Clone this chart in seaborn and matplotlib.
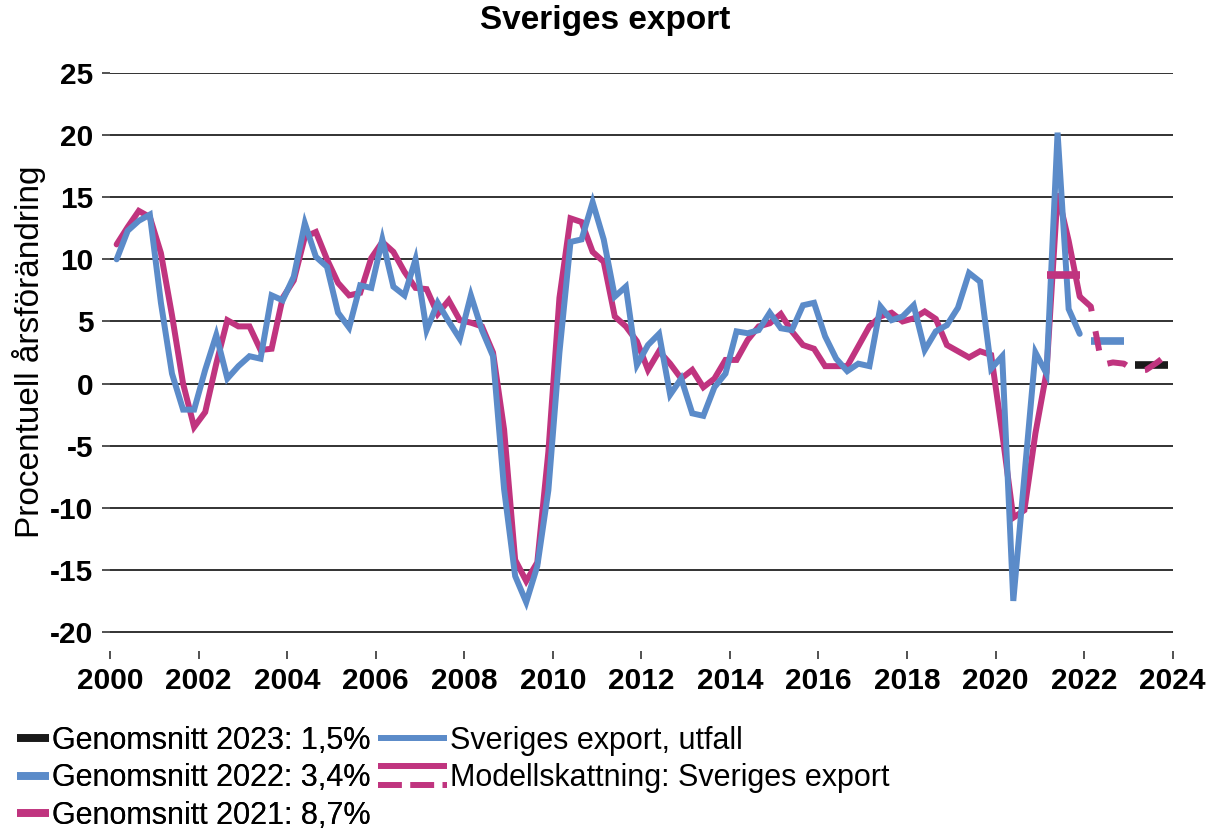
import numpy as np
import pandas as pd
import matplotlib
matplotlib.use("Agg")
import matplotlib.pyplot as plt
from matplotlib.lines import Line2D
import seaborn as sns

# ---------------- data ----------------
start_year = 2000
utfall = [  # Sveriges export, utfall (quarterly, 2000Q1-2021Q4)
    10.0, 12.3, 13.1, 13.6,
    6.5, 0.8, -2.1, -2.1,
    1.1, 3.9, 0.4, 1.4,
    2.2, 2.0, 7.1, 6.7,
    8.6, 12.9, 10.2, 9.4,
    5.7, 4.5, 7.9, 7.7,
    11.6, 7.8, 7.1, 10.0,
    4.3, 6.5, 5.0, 3.6,
    7.1, 4.3, 2.2, -8.5,
    -15.5, -17.6, -14.7, -8.6,
    2.5, 11.4, 11.6, 14.6,
    11.6, 7.0, 7.8, 1.5,
    3.1, 4.0, -0.9, 0.4,
    -2.4, -2.6, -0.3, 0.8,
    4.2, 4.05, 4.3, 5.7,
    4.45, 4.3, 6.3, 6.5,
    3.8, 2.0, 1.0, 1.6,
    1.4, 6.2, 5.1, 5.4,
    6.3, 2.7, 4.2, 4.7,
    6.1, 8.9, 8.2, 1.2,
    2.2, -17.5, -7.5, 2.5,
    0.8, 20.2, 6.0, 4.0,
]
modell = [  # Modellskattning: Sveriges export (quarterly, 2000Q1-2023Q4)
    11.2, 12.6, 13.9, 13.4,
    10.5, 5.5, 0.0, -3.5,
    -2.3, 1.6, 5.1, 4.6,
    4.6, 2.7, 2.8, 6.9,
    8.3, 11.8, 12.2, 10.0,
    8.1, 7.1, 7.3, 10.1,
    11.4, 10.6, 9.0, 7.7,
    7.6, 5.6, 6.7, 5.1,
    4.9, 4.6, 2.5, -3.7,
    -14.2, -15.9, -14.4, -5.5,
    6.9, 13.3, 13.0, 10.6,
    9.8, 5.4, 4.6, 3.4,
    1.1, 2.6, 1.6, 0.4,
    1.1, -0.3, 0.4, 1.9,
    1.9, 3.5, 4.6, 4.85,
    5.6, 4.2, 3.1, 2.8,
    1.4, 1.4, 1.4, 3.0,
    4.6, 5.4, 5.7, 5.0,
    5.25, 5.8, 5.2, 3.1,
    2.6, 2.1, 2.6, 2.3,
    -4.0, -10.8, -10.2, -4.0,
    0.9, 15.3, 11.5, 7.0,
    6.2, 1.5, 1.7, 1.6,
    1.0, 1.1, 1.7, 2.4,
]
n_history = 88  # quarters of model estimate drawn solid (up to 2021Q4)
avg_years = [2021, 2022, 2023]
avg_values = [8.7, 3.4, 1.5]
avg_labels = ["Genomsnitt 2021: 8,7%", "Genomsnitt 2022: 3,4%", "Genomsnitt 2023: 1,5%"]
yticks = [-20, -15, -10, -5, 0, 5, 10, 15, 20, 25]
xticks = list(range(2000, 2025, 2))

# ---------------- style ----------------
BLUE = "#5b8bc9"
MAG = "#c0347f"
BLACK = "#1a1a1a"
sns.set_theme(style="white")
plt.rcParams["font.family"] = ["Liberation Sans", "DejaVu Sans"]
plt.rcParams["text.color"] = "black"
plt.rcParams["axes.labelcolor"] = "black"
plt.rcParams["xtick.color"] = "black"
plt.rcParams["ytick.color"] = "black"

def qx(k):
    return start_year + 0.15 + 0.25 * np.asarray(k)

fig = plt.figure(figsize=(12.11, 8.35), dpi=100)
W, H = 1211, 835
ax = fig.add_axes([110 / W, 1 - 650.6 / H, (1172.7 - 110) / W, (650.6 - 73) / H])

df_u = pd.DataFrame({"x": qx(np.arange(len(utfall))), "y": utfall})
df_m = pd.DataFrame({"x": qx(np.arange(len(modell))), "y": modell})
df_mh = df_m.iloc[:n_history]
df_mf = df_m.iloc[n_history - 1:]

LW = 4.3
sns.lineplot(data=df_mh, x="x", y="y", ax=ax, color=MAG, lw=LW, zorder=3,
             solid_joinstyle="miter", estimator=None, sort=False)
sns.lineplot(data=df_mf, x="x", y="y", ax=ax, color=MAG, lw=LW, zorder=6,
             estimator=None, sort=False, dashes=False)
ax.lines[-1].set_dashes((3.3, 3.4))
sns.lineplot(data=df_u, x="x", y="y", ax=ax, color=BLUE, lw=LW, zorder=4,
             solid_joinstyle="miter", estimator=None, sort=False)

avg_colors = [MAG, BLUE, BLACK]
for yr, val, col in zip(avg_years, avg_values, avg_colors):
    k0 = (yr - start_year) * 4
    d = pd.DataFrame({"x": qx([k0, k0 + 3]), "y": [val, val]})
    sns.lineplot(data=d, x="x", y="y", ax=ax, color=col, lw=5.5, zorder=5,
                 solid_capstyle="butt", estimator=None)

ax.set_xlim(2000, 2024)
ax.set_ylim(-21.5, 25)
ax.set_yticks(yticks)
ax.set_xticks(xticks)
ax.set_xticklabels([str(t) for t in xticks])
ax.set_yticklabels([str(t) for t in yticks])
for s in ax.spines.values():
    s.set_visible(False)
for t in yticks:
    ax.axhline(t, color="#222222", lw=1.3, zorder=1)
ax.grid(False)
ax.tick_params(axis="both", direction="out", length=6, width=1.2, color="#333333",
               labelsize=21.5, pad=6, left=True, bottom=True)
for lab in ax.get_xticklabels() + ax.get_yticklabels():
    lab.set_fontweight("bold")
ax.set_xlabel("")
ax.set_ylabel("Procentuell årsförändring", fontsize=24)
ax.yaxis.set_label_coords(-0.060, 0.517)
fig.text(605 / W, 1 - 20 / H, "Sveriges export", ha="center", va="center",
         fontsize=24, fontweight="bold")

# ---------------- legends ----------------
LFS = 22
h1 = [Line2D([], [], color=c, lw=5.5, solid_capstyle="butt") for c in [BLACK, BLUE, MAG]]
l1 = [avg_labels[2], avg_labels[1], avg_labels[0]]
leg1 = fig.legend(h1, l1, loc="upper left", bbox_to_anchor=(17 / W, 1 - 726 / H),
                  frameon=False, fontsize=LFS, handlelength=1.05, handletextpad=0.08,
                  borderpad=0, borderaxespad=0, labelspacing=0.24)


class TwoLineHandler:
    def legend_artist(self, legend, orig_handle, fontsize, handlebox):
        x0, y0 = handlebox.xdescent, handlebox.ydescent
        w, h = handlebox.width, handlebox.height
        a = Line2D([x0, x0 + w], [y0 + h * 0.95] * 2, color=MAG, lw=LW,
                   solid_capstyle="butt")
        b = Line2D([x0, x0 + w], [y0 + h * 0.05] * 2, color=MAG, lw=LW,
                   dashes=(4.0, 1.4), dash_capstyle="butt")
        handlebox.add_artist(a)
        handlebox.add_artist(b)
        return a


class ModelKey:
    pass


h2 = [Line2D([], [], color=BLUE, lw=LW, solid_capstyle="butt"), ModelKey()]
l2 = ["Sveriges export, utfall", "Modellskattning: Sveriges export"]
leg2 = fig.legend(h2, l2, loc="upper left", bbox_to_anchor=(378 / W, 1 - 726 / H),
                  frameon=False, fontsize=LFS, handlelength=2.25, handletextpad=0.12,
                  borderpad=0, borderaxespad=0, labelspacing=0.24,
                  handler_map={ModelKey: TwoLineHandler()})
fig.add_artist(leg1)

fig.savefig("out.png", dpi=100)
